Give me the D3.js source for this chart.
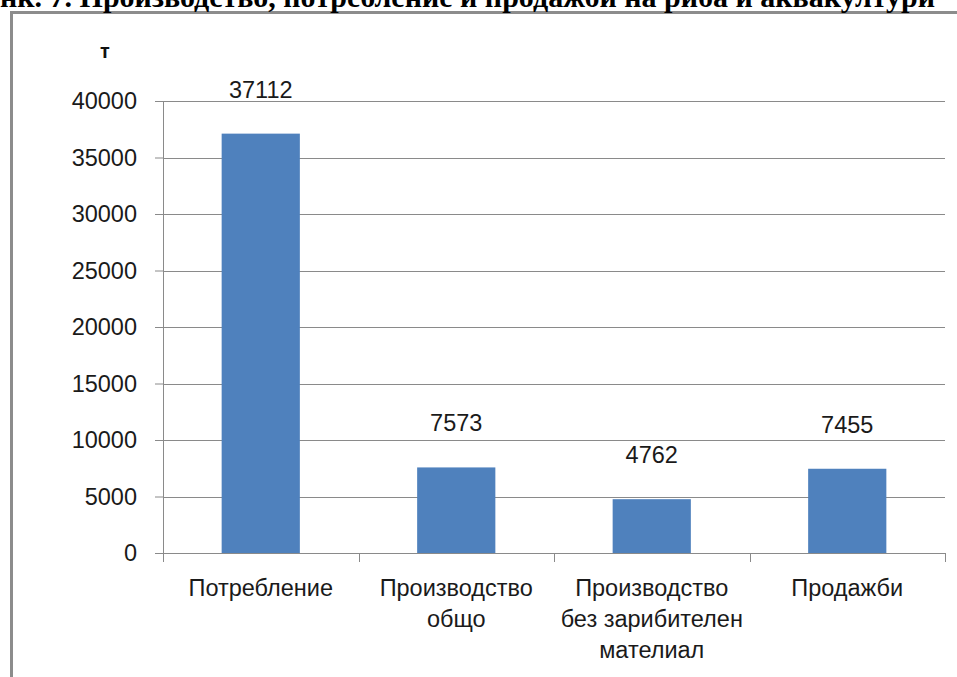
<!DOCTYPE html>
<html>
<head>
<meta charset="utf-8">
<script src="https://cdn.jsdelivr.net/npm/d3@7"></script>
<style>
  body { margin: 0; background: #fff; }
  svg { display: block; }
</style>
</head>
<body>
<svg id="chart" width="957" height="677"></svg>
<script>
// данни
const categories = ['Потребление', 'Производство общо', 'Производство без зарибителен мателиал', 'Продажби']
const values = [37112, 7573, 4762, 7455]
const yTicks = [0, 5000, 10000, 15000, 20000, 25000, 30000, 35000, 40000]
const unitLabel = 'т'
const titleText = 'нк. 7. Производство, потребление и продажби на риба и аквакултури'

const W = 957
const H = 677
const margin = { top: 101, right: 12, bottom: 124, left: 163 }
const width = W - margin.left - margin.right
const height = H - margin.top - margin.bottom
const fontFamily = '"Liberation Sans", Arial, sans-serif'
const gridColor = '#8a8a8a'
const barColor = '#4f81bd'

const svg = d3.select('#chart')

// рамка на диаграмата
svg.append('path')
  .attr('d', `M11.5,${H + 5}V12.5H${W + 5}`)
  .attr('fill', 'none')
  .attr('stroke', '#8c8c8c')
  .attr('stroke-width', 3)

// заглавие (отрязано отгоре, както в оригинала)
svg.append('text')
  .attr('x', 0)
  .attr('y', 7)
  .attr('font-family', '"Liberation Serif", "Times New Roman", serif')
  .attr('font-weight', 'bold')
  .attr('font-size', 30)
  .attr('fill', '#000')
  .text(titleText)

const g = svg.append('g').attr('transform', `translate(${margin.left},${margin.top})`)

const x = d3.scaleBand().domain(categories).range([0, width]).padding(0)
const y = d3.scaleLinear().domain([0, 40000]).range([height, 0])

// мрежа
g.append('g')
  .selectAll('line')
  .data(yTicks.filter(d => d > 0))
  .enter().append('line')
  .attr('x1', 0)
  .attr('x2', width)
  .attr('y1', d => Math.round(y(d)) + 0.5)
  .attr('y2', d => Math.round(y(d)) + 0.5)
  .attr('stroke', gridColor)
  .attr('stroke-width', 1)

// колони
const bw = x.bandwidth()
g.append('g')
  .selectAll('rect')
  .data(values)
  .enter().append('rect')
  .attr('x', (d, i) => x(categories[i]) + bw * 0.3)
  .attr('width', bw * 0.4)
  .attr('y', d => y(d))
  .attr('height', d => height - y(d))
  .attr('fill', barColor)

// стойности над колоните
g.append('g')
  .selectAll('text')
  .data(values)
  .enter().append('text')
  .attr('x', (d, i) => x(categories[i]) + bw / 2)
  .attr('y', d => y(d) - 36)
  .attr('text-anchor', 'middle')
  .attr('font-family', fontFamily)
  .attr('font-size', 23.5)
  .attr('fill', '#1a1a1a')
  .text(d => d)

// ос Y
const yAxis = g.append('g')
  .call(d3.axisLeft(y).tickValues(yTicks).tickSizeInner(8).tickSizeOuter(0).tickPadding(18).tickFormat(d3.format('d')))
yAxis.select('.domain').attr('stroke', gridColor)
yAxis.selectAll('.tick line').attr('stroke', gridColor)
yAxis.selectAll('.tick text')
  .attr('font-family', fontFamily)
  .attr('font-size', 23.5)
  .attr('fill', '#1a1a1a')

// ос X
const xAxisG = g.append('g').attr('transform', `translate(0,${height})`)
xAxisG.append('line')
  .attr('x1', 0).attr('x2', width)
  .attr('y1', 0.5).attr('y2', 0.5)
  .attr('stroke', gridColor)
const bounds = categories.map(c => x(c)).concat([width])
xAxisG.selectAll('line.tick')
  .data(bounds)
  .enter().append('line')
  .attr('class', 'tick')
  .attr('x1', d => Math.round(d) + 0.5)
  .attr('x2', d => Math.round(d) + 0.5)
  .attr('y1', 0)
  .attr('y2', 9)
  .attr('stroke', gridColor)

const wrap = (textSel, maxW) => {
  textSel.each(function (d) {
    const t = d3.select(this)
    const words = d.split(/\s+/)
    const lines = []
    let line = []
    const tmp = t.append('tspan')
    words.forEach(w => {
      line.push(w)
      tmp.text(line.join(' '))
      if (tmp.node().getComputedTextLength() > maxW && line.length > 1) {
        line.pop()
        lines.push(line.join(' '))
        line = [w]
      }
    })
    lines.push(line.join(' '))
    tmp.remove()
    t.selectAll('tspan').data(lines).enter().append('tspan')
      .attr('x', 0)
      .attr('dy', (l, i) => i === 0 ? 0 : 31)
      .text(l => l)
  })
}

xAxisG.selectAll('text.cat')
  .data(categories)
  .enter().append('text')
  .attr('class', 'cat')
  .attr('transform', d => `translate(${x(d) + bw / 2},43)`)
  .attr('text-anchor', 'middle')
  .attr('font-family', fontFamily)
  .attr('font-size', 23.5)
  .attr('fill', '#1a1a1a')
  .call(wrap, bw - 8)

// мерна единица
svg.append('text')
  .attr('x', 105)
  .attr('y', 58)
  .attr('text-anchor', 'middle')
  .attr('font-family', fontFamily)
  .attr('font-weight', 'bold')
  .attr('font-size', 20)
  .attr('fill', '#111')
  .text(unitLabel)
</script>
</body>
</html>
